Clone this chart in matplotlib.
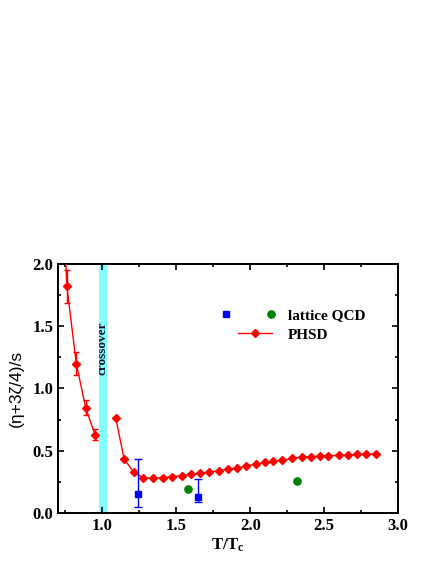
import numpy as np
import matplotlib
matplotlib.use("Agg")
import matplotlib.pyplot as plt
from matplotlib.ticker import MultipleLocator
from matplotlib.legend_handler import HandlerTuple, HandlerLine2D

# PHSD curve (below the crossover band)
phsd_low_T = [0.70, 0.760, 0.824, 0.887, 0.950]
phsd_low_v = [3.40, 1.82, 1.20, 0.846, 0.63]
phsd_low_err = [0.0, 0.13, 0.09, 0.06, 0.045]

# PHSD curve (above the crossover band)
phsd_high_T = [1.090, 1.148, 1.214, 1.276, 1.344, 1.407, 1.472, 1.536, 1.599, 1.659,
               1.722, 1.788, 1.851, 1.914, 1.970, 2.036, 2.099, 2.155, 2.218, 2.283,
               2.347, 2.409, 2.475, 2.526, 2.601, 2.661, 2.725, 2.786, 2.849]
phsd_high_v = [0.765, 0.431, 0.327, 0.284, 0.279, 0.284, 0.292, 0.300, 0.311, 0.319,
               0.329, 0.340, 0.353, 0.361, 0.378, 0.391, 0.407, 0.415, 0.423, 0.439,
               0.447, 0.452, 0.458, 0.460, 0.463, 0.466, 0.471, 0.474, 0.476]

# lattice QCD
lat_sq_T = [1.238, 1.648]
lat_sq_v = [0.15, 0.13]
lat_sq_lo = [0.10, 0.04]
lat_sq_hi = [0.28, 0.14]

lat_ci_T = [1.58, 2.317]
lat_ci_v = [0.193, 0.255]

crossover_band = (0.975, 1.03)

serif = "Liberation Serif"
plt.rcParams["mathtext.fontset"] = "custom"
plt.rcParams["mathtext.rm"] = "Liberation Serif:bold"
plt.rcParams["mathtext.bf"] = "Liberation Serif:bold"
plt.rcParams["mathtext.it"] = "Liberation Serif:bold"


class ShortLine(HandlerLine2D):
    # shorter line handle, pushed to the right of the handle box
    def create_artists(self, legend, orig_handle, xdescent, ydescent, width, height,
                       fontsize, trans):
        return super().create_artists(legend, orig_handle, xdescent - 0.32 * width,
                                      ydescent, 0.56 * width, height, fontsize, trans)


fig = plt.figure(figsize=(4.36, 5.64), dpi=100)
ax = fig.add_axes([0.133, 0.0904, 0.78, 0.4416])

ax.axvspan(crossover_band[0], crossover_band[1], color="#80ffff", lw=0, zorder=1)
ax.text(sum(crossover_band) / 2, 1.32, "crossover", rotation=90, ha="center", va="center",
        fontsize=9.5, fontweight="bold", family=serif, color="#101030", zorder=2)

ax.errorbar(phsd_low_T, phsd_low_v, yerr=phsd_low_err, color="red", marker="D",
            markersize=4.5, lw=1, capsize=2.5, elinewidth=1, zorder=3)
ax.plot(phsd_high_T, phsd_high_v, color="red", marker="D", markersize=4.5,
        lw=1, zorder=3)

ax.errorbar(lat_sq_T, lat_sq_v, yerr=[lat_sq_lo, lat_sq_hi], fmt="s", color="blue",
            markersize=5, capsize=3, elinewidth=1, zorder=4)
ax.plot(lat_ci_T, lat_ci_v, "o", color="green", markersize=5.2, zorder=4)

sq = plt.Line2D([], [], ls="none", marker="s", color="blue", markersize=5)
ci = plt.Line2D([], [], ls="none", marker="o", color="green", markersize=5.2)
ph_h = plt.Line2D([], [], color="red", marker="D", markersize=4.5, lw=1)
ax.legend([(sq, ci), ph_h], ["lattice QCD", "PHSD"],
          handler_map={tuple: HandlerTuple(ndivide=None, pad=2.0), ph_h: ShortLine()},
          loc="upper left", bbox_to_anchor=(0.43, 0.875), frameon=False,
          handlelength=4.0, handletextpad=0.6, labelspacing=0.35,
          prop={"family": serif, "weight": "bold", "size": 11})

ax.set_xlim(0.7, 3.0)
ax.set_ylim(0.0, 2.0)
ax.xaxis.set_major_locator(MultipleLocator(0.5))
ax.xaxis.set_minor_locator(MultipleLocator(0.25))
ax.yaxis.set_major_locator(MultipleLocator(0.5))
ax.yaxis.set_minor_locator(MultipleLocator(0.25))
ax.tick_params(which="both", direction="in", top=True, right=True, width=1.2)
ax.tick_params(which="major", length=4)
ax.tick_params(which="minor", length=2.5)
for lab in ax.get_xticklabels() + ax.get_yticklabels():
    lab.set_family(serif)
    lab.set_fontweight("bold")
    lab.set_fontsize(12)
for sp in ax.spines.values():
    sp.set_linewidth(1.4)

ax.set_xlabel("T/T$_\\mathrm{c}$", family=serif, fontweight="bold", fontsize=12, labelpad=2)
ax.set_ylabel("(η+3ζ/4)/s", family="Liberation Sans", fontsize=12.5, labelpad=6)

fig.savefig("out.png", dpi=100)
